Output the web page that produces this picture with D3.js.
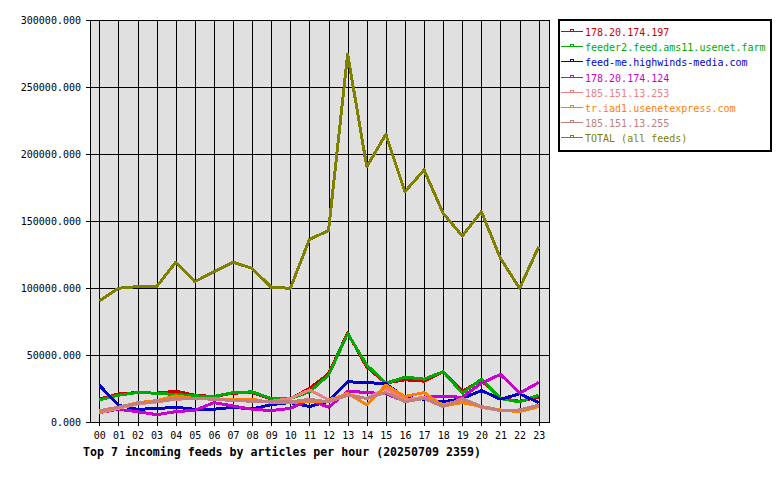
<!DOCTYPE html>
<html>
<head>
<meta charset="utf-8">
<script src="https://cdn.jsdelivr.net/npm/d3@7"></script>
<style>
  body { margin: 0; background: #fff; }
  svg text { font-family: "DejaVu Sans Mono", monospace; }
</style>
</head>
<body>
<svg id="chart" width="780" height="480"></svg>
<script>
// hours on the x axis
const hours = ['00','01','02','03','04','05','06','07','08','09','10','11',
  '12','13','14','15','16','17','18','19','20','21','22','23'];

const feedNames = ['178.20.174.197', 'feeder2.feed.ams11.usenet.farm',
  'feed-me.highwinds-media.com', '178.20.174.124', '185.151.13.253',
  'tr.iad1.usenetexpress.com', '185.151.13.255', 'TOTAL (all feeds)'];

// articles per hour
const feed197 = [17000, 21000, 22000, 21500, 23000, 20000, 19000, 21500, 22000, 17000, 17500, 25000,
  36000, 66500, 41000, 29000, 31500, 30500, 37500, 23000, 31000, 17500, 15500, 18500];
const feedAms11 = [16500, 20000, 22000, 21500, 20500, 19500, 19000, 22000, 22500, 17500, 17500, 22500,
  35000, 66000, 42500, 29000, 33500, 32000, 37500, 21500, 32000, 17500, 15000, 20000];
const feedHighwinds = [27500, 12500, 9500, 10000, 11000, 9500, 9500, 11000, 9700, 13000, 14500, 11500,
  15500, 30000, 29500, 28500, 18500, 17000, 15000, 17500, 23500, 17000, 21000, 14500];
const feed124 = [7000, 9500, 7700, 5500, 7700, 8700, 14400, 12000, 9500, 8500, 10200, 16400,
  11000, 23000, 22000, 21000, 15500, 18500, 19000, 18500, 29000, 35500, 21500, 29500];
const feed253 = [7000, 10200, 13500, 15000, 17000, 17500, 17000, 16000, 15500, 15500, 17500, 24000,
  16500, 20500, 17500, 25000, 16500, 18500, 13000, 16000, 11000, 8500, 9000, 12500];
const feedIad1 = [7700, 11000, 14400, 16000, 19500, 17500, 17500, 16500, 17000, 14500, 14500, 15500,
  15500, 21500, 12700, 27500, 19000, 22000, 12000, 14500, 11500, 9000, 7700, 11500];
const feed255 = [8500, 11000, 14000, 15200, 17200, 17500, 17000, 16000, 15500, 15000, 15000, 17000,
  15000, 20000, 17500, 22000, 15200, 17500, 11500, 17500, 11500, 8500, 9000, 12500];
const feedTotal = [90300, 99800, 101000, 101000, 119200, 104700, 112200, 119200, 114700, 100500, 99800, 136300,
  142800, 274600, 190500, 214700, 171900, 188100, 155700, 138800, 157000, 122100, 99800, 130800];

const yTicks = [0, 50000, 100000, 150000, 200000, 250000, 300000];
const title = 'Top 7 incoming feeds by articles per hour (20250709 2359)';

const colors = ['#cc0000', '#00aa00', '#0000cc', '#cc00cc', '#f08080', '#ff8000', '#c08080', '#808000'];
const seriesValues = [feed197, feedAms11, feedHighwinds, feed124, feed253, feedIad1, feed255, feedTotal];

const svg = d3.select('svg#chart');
const plot = { left: 90, right: 549, top: 20, bottom: 422 };

const x = d3.scalePoint().domain(hours).range([99.3, 538.7]);
const y = d3.scaleLinear().domain([0, 300000]).range([plot.bottom, plot.top]);

// plot background
svg.append('rect')
  .attr('x', plot.left).attr('y', plot.top)
  .attr('width', plot.right - plot.left).attr('height', plot.bottom - plot.top)
  .attr('fill', '#e0e0e0');

// grid
const grid = svg.append('g').attr('shape-rendering', 'crispEdges');
grid.selectAll('line.h')
  .data(yTicks)
  .enter()
  .append('line')
  .attr('x1', plot.left).attr('x2', plot.right)
  .attr('y1', d => Math.round(y(d)) + 0.5).attr('y2', d => Math.round(y(d)) + 0.5)
  .attr('stroke', '#000');
grid.selectAll('line.v')
  .data(hours)
  .enter()
  .append('line')
  .attr('x1', d => Math.round(x(d)) + 0.5).attr('x2', d => Math.round(x(d)) + 0.5)
  .attr('y1', plot.top).attr('y2', plot.bottom + 4)
  .attr('stroke', '#000');

// frame
svg.append('rect')
  .attr('x', plot.left + 0.5).attr('y', plot.top + 0.5)
  .attr('width', plot.right - plot.left).attr('height', plot.bottom - plot.top)
  .attr('fill', 'none').attr('stroke', '#000').attr('stroke-width', 1.5)
  .attr('shape-rendering', 'crispEdges');

// y axis
const yAxis = svg.append('g')
  .attr('transform', `translate(${plot.left},0)`)
  .call(d3.axisLeft(y).tickValues(yTicks).tickFormat(d3.format('.3f')).tickSize(4).tickPadding(5));
yAxis.select('.domain').remove();
yAxis.selectAll('line').attr('shape-rendering', 'crispEdges').attr('stroke-width', 1.5);
yAxis.selectAll('text').attr('font-size', 10).attr('fill', '#000')
  .attr('font-family', '"DejaVu Sans Mono", monospace');

// x axis labels
const xAxis = svg.append('g')
  .attr('transform', `translate(0,${plot.bottom})`)
  .call(d3.axisBottom(x).tickSize(4).tickPadding(6));
xAxis.select('.domain').remove();
xAxis.selectAll('line').attr('shape-rendering', 'crispEdges');
xAxis.selectAll('text').attr('font-size', 10).attr('fill', '#000')
  .attr('font-family', '"DejaVu Sans Mono", monospace');

// series
const line = d3.line().x((d, i) => x(hours[i])).y(d => y(d));
svg.append('g')
  .selectAll('path')
  .data(seriesValues)
  .enter()
  .append('path')
  .attr('fill', 'none')
  .attr('stroke', (d, i) => colors[i])
  .attr('stroke-width', 3)
  .attr('stroke-linejoin', 'round')
  .attr('shape-rendering', 'crispEdges')
  .attr('d', d => line(d));

// title
svg.append('text')
  .attr('x', 83).attr('y', 456)
  .attr('font-size', 11.6).attr('font-weight', 'bold')
  .text(title);

// legend
const legend = svg.append('g');
legend.append('rect')
  .attr('x', 559).attr('y', 20).attr('width', 212).attr('height', 131)
  .attr('fill', '#fff').attr('stroke', '#000').attr('stroke-width', 2)
  .attr('shape-rendering', 'crispEdges');
const rows = legend.selectAll('g.row')
  .data(feedNames)
  .enter()
  .append('g')
  .attr('transform', (d, i) => `translate(0,${Math.round(32 + i * 15.2)})`);
rows.append('line')
  .attr('x1', 561).attr('x2', 583).attr('y1', -0.5).attr('y2', -0.5)
  .attr('stroke', (d, i) => colors[i])
  .attr('shape-rendering', 'crispEdges');
rows.append('rect')
  .attr('x', 570.5).attr('y', -2.5).attr('width', 3).attr('height', 2)
  .attr('fill', 'none')
  .attr('stroke', (d, i) => colors[i])
  .attr('shape-rendering', 'crispEdges');
rows.append('text')
  .attr('x', 585).attr('y', 3.5)
  .attr('font-size', 10)
  .attr('fill', (d, i) => colors[i])
  .text(d => d);
</script>
</body>
</html>
